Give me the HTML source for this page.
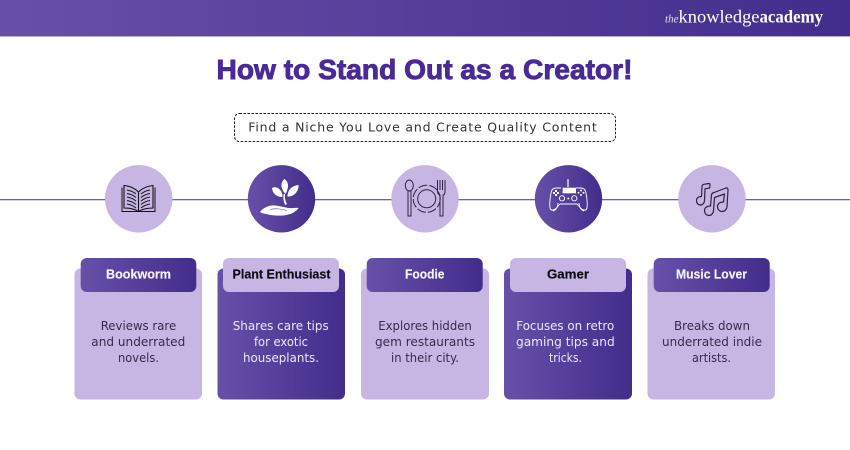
<!DOCTYPE html>
<html>
<head>
<meta charset="utf-8">
<style>
html,body{margin:0;padding:0;background:#fff;width:850px;height:450px;overflow:hidden}
svg{display:block}
.s{font-family:"DejaVu Sans",sans-serif}
.tab{font-family:"Liberation Sans",sans-serif;font-weight:700;font-size:12.500px;stroke-width:.15px}
.b{font-family:"DejaVu Sans",sans-serif;font-size:12px}
.dk{fill:#352c4a}
.lt{fill:#ece7f7}
</style>
</head>
<body>
<svg width="850" height="450" viewBox="0 0 850 450" xmlns="http://www.w3.org/2000/svg">
<defs>
<linearGradient id="g" x1="0" y1="0" x2="1" y2="0"><stop offset="0" stop-color="#6750a8"/><stop offset="1" stop-color="#432d8b"/></linearGradient>
</defs>
<rect width="850" height="450" fill="#fff"/>
<rect x="0" y="0" width="850" height="36" fill="url(#g)"/>
<rect x="0" y="36" width="850" height="1" fill="#b9aed6"/>
<text x="665" y="22.500" font-family="'Liberation Serif',serif" font-style="italic" font-size="12" fill="#e3dcf2" textLength="13.500" lengthAdjust="spacingAndGlyphs">the</text>
<text x="678.500" y="22.500" font-family="'Liberation Serif',serif" font-size="18" fill="#fff" textLength="81" lengthAdjust="spacingAndGlyphs">knowledge</text>
<text x="759.500" y="22.500" font-family="'Liberation Serif',serif" font-weight="700" font-size="18" fill="#fff" textLength="63.500" lengthAdjust="spacingAndGlyphs">academy</text>

<text x="216.500" y="79" font-family="'Liberation Sans',sans-serif" font-weight="700" font-size="28" fill="#4a2a96" stroke="#4a2a96" stroke-width=".9" textLength="416" lengthAdjust="spacingAndGlyphs">How to Stand Out as a Creator!</text>

<rect x="234.500" y="113.500" width="381" height="28" rx="5" fill="#fff" stroke="#222" stroke-width="1" stroke-dasharray="2.500 1.500"/>
<text x="248.300" y="131.500" class="s" font-size="12.500" fill="#333" textLength="348.500" lengthAdjust="spacing">Find a Niche You Love and Create Quality Content</text>

<rect x="0" y="199" width="850" height="1.300" fill="#6f5cc4"/>

<circle cx="138.700" cy="198.800" r="33.700" fill="#c7b5e3"/>
<circle cx="281.500" cy="198.800" r="33.700" fill="url(#g)"/>
<circle cx="425" cy="198.800" r="33.700" fill="#c7b5e3"/>
<circle cx="568.500" cy="198.800" r="33.700" fill="url(#g)"/>
<circle cx="712" cy="198.800" r="33.700" fill="#c7b5e3"/>

<!-- book -->
<g fill="none" stroke="#15121c" stroke-width="1.100">
<path d="M122 187.500V211.500H155V187.500" stroke-width="1"/>
<path d="M138.500 192C134 187.500 129 186 124 185.500V208C129 208 134.500 209 138.500 211.500C142.500 209 148 208 153 208V185.500C148 186 143 187.500 138.500 192Z"/>
<path d="M138.500 192V211"/>
<path d="M127 190C130 190.500 133 191.500 136 194M127 193.500C130 194 133 195 136 197.500M127 197C130 197.500 133 198.500 136 201M127 200.500C130 201 133 202 136 204.500M127 204C130 204.500 133 205.500 136 208"/>
<path d="M150 190C147 190.500 144 191.500 141 194M150 193.500C147 194 144 195 141 197.500M150 197C147 197.500 144 198.500 141 201M150 200.500C147 201 144 202 141 204.500M150 204C147 204.500 144 205.500 141 208"/>
</g>

<!-- plant -->
<g fill="#fff">
<path d="M284.500 179C289 182.500 289 187.500 285.500 194C280 188 280.500 182.500 284.500 179Z"/>
<path d="M272 188C277 185.500 282.500 190 282.500 197C276.500 197 272.500 193.500 272 188Z"/>
<path d="M298.500 185C299 191.500 293.500 197 287.500 196.500C287.500 190 292 185.500 298.500 185Z"/>
<path d="M283.500 194L285 194C284.500 198 285.500 201 287 204L285 205C283.500 201 283 198 283.500 194Z"/>
<path d="M260 212C264 207 270 205 275 205.500C280 206 284 207 288 208C292 208.500 296 207.500 298.500 208C296 212 290 215 283 215.500C276 216 270 215 266 214C264 213.500 262 213.500 260 212Z"/>
</g>
<path d="M270 209.500C276 208 281 209 287 210.500" fill="none" stroke="#5a44a0" stroke-width=".6"/>

<!-- food -->
<g fill="none" stroke="#2c2440" stroke-width="1">
<ellipse cx="409.300" cy="185.500" rx="4" ry="5.500"/>
<path d="M408 191V216H411V191"/>
<circle cx="426.700" cy="198.800" r="13.500" stroke-dasharray="9 2"/>
<circle cx="426.700" cy="198.800" r="9"/>
<path d="M437.500 180V191C437.500 194 439 195 440 195V216H443V195C444 195 445 194 445 191V180M440 180V190M442.500 180V190"/>
</g>

<!-- gamepad -->
<g fill="none" stroke="#fff" stroke-width=".9">
<path d="M568 179V187" stroke-width="1.200"/>
<path d="M561 188H556C553 188 551.500 190 551 193C550 198 549.500 204 550 208C550.500 211 554 210.500 556 208.500L560 204H577L581 208.500C583 210.500 586.500 211 587 208C587.500 204 587 198 586 193C585.500 190 584 188 581 188H576"/>
<path d="M553 211C556 210 558 207 558 203M584 211C581 210 579 207 579 203"/>
<circle cx="562" cy="198.300" r="2.600"/>
<circle cx="574.300" cy="198.300" r="2.600"/>
</g>
<g fill="#fff">
<rect x="562.700" y="187.700" width="13.300" height="5.600"/>
<rect x="555" y="190" width="2" height="2"/><rect x="555" y="194" width="2" height="2"/><rect x="553" y="192" width="2" height="2"/><rect x="557" y="192" width="2" height="2"/>
<circle cx="581" cy="190.500" r="1"/><circle cx="581" cy="195" r="1"/><circle cx="578.500" cy="192.800" r="1"/><circle cx="583.500" cy="192.800" r="1"/>
<circle cx="568.300" cy="198.500" r="1"/>
</g>

<!-- music -->
<g fill="none" stroke="#2c2440" stroke-width="1.200" stroke-linejoin="round">
<path d="M704.500 200.500C704.500 203 702.500 205 700.500 205C698 205 696.500 203 696.500 200.500C696.500 198 698.500 196.500 701.500 196.500L702 186.500C702 185 703 184.500 704.500 184.200L709 183.500C710 183.500 710 184.500 710 186L709.500 188L705 188.800Z"/>
<path d="M713.500 210.500C713.500 213 711.500 215.500 709 215.500C706.500 215.500 704.500 213.500 704.500 210.500C704.500 208 706.500 206 710.500 206L711.500 195C711.500 193.500 712.500 193 714 192.500L726 188C727.500 187.500 728 188.500 728 190L727 206.500C727 209 725 211.500 722 211.500C719.500 211.500 717.500 209.500 717.500 206.500C717.500 204 719.500 202 723.500 202L724.500 194L714.500 197.500Z"/>
</g>

<!-- cards -->
<rect x="74.500" y="268.500" width="127.500" height="131" rx="6" fill="#c7b5e3"/>
<rect x="217.500" y="268.500" width="127.500" height="131" rx="6" fill="url(#g)"/>
<rect x="361" y="268.500" width="128" height="131" rx="6" fill="#c7b5e3"/>
<rect x="504" y="268.500" width="128" height="131" rx="6" fill="url(#g)"/>
<rect x="647.500" y="268.500" width="127.500" height="131" rx="6" fill="#c7b5e3"/>

<rect x="80.700" y="258" width="115.600" height="34" rx="6" fill="url(#g)"/>
<rect x="223" y="258" width="116" height="34" rx="6" fill="#c7b5e3"/>
<rect x="366.700" y="258" width="116" height="34" rx="6" fill="url(#g)"/>
<rect x="510" y="258" width="116" height="34" rx="6" fill="#c7b5e3"/>
<rect x="653.700" y="258" width="116" height="34" rx="6" fill="url(#g)"/>

<text x="106" y="278.500" class="tab" fill="#f5f2fb" stroke="#f5f2fb" textLength="65" lengthAdjust="spacingAndGlyphs">Bookworm</text>
<text x="232.500" y="278.500" class="tab" fill="#0d0a14" stroke="#0d0a14" textLength="98" lengthAdjust="spacingAndGlyphs">Plant Enthusiast</text>
<text x="405" y="278.500" class="tab" fill="#f5f2fb" stroke="#f5f2fb" textLength="39.500" lengthAdjust="spacingAndGlyphs">Foodie</text>
<text x="547" y="278.500" class="tab" fill="#0d0a14" stroke="#0d0a14" textLength="42" lengthAdjust="spacingAndGlyphs">Gamer</text>
<text x="676" y="278.500" class="tab" fill="#f5f2fb" stroke="#f5f2fb" textLength="71" lengthAdjust="spacingAndGlyphs">Music Lover</text>

<text x="100.700" y="330" class="b dk" textLength="75.500" lengthAdjust="spacingAndGlyphs">Reviews rare</text>
<text x="91.300" y="346" class="b dk" textLength="94" lengthAdjust="spacingAndGlyphs">and underrated</text>
<text x="118" y="362" class="b dk" textLength="41" lengthAdjust="spacingAndGlyphs">novels.</text>

<text x="232.700" y="330" class="b lt" textLength="96" lengthAdjust="spacingAndGlyphs">Shares care tips</text>
<text x="254" y="346" class="b lt" textLength="54" lengthAdjust="spacingAndGlyphs">for exotic</text>
<text x="243" y="362" class="b lt" textLength="76" lengthAdjust="spacingAndGlyphs">houseplants.</text>

<text x="378.300" y="330" class="b dk" textLength="93.500" lengthAdjust="spacingAndGlyphs">Explores hidden</text>
<text x="375" y="346" class="b dk" textLength="100" lengthAdjust="spacingAndGlyphs">gem restaurants</text>
<text x="391" y="362" class="b dk" textLength="68" lengthAdjust="spacingAndGlyphs">in their city.</text>

<text x="516.300" y="330" class="b lt" textLength="98" lengthAdjust="spacingAndGlyphs">Focuses on retro</text>
<text x="516" y="346" class="b lt" textLength="98.700" lengthAdjust="spacingAndGlyphs">gaming tips and</text>
<text x="549" y="362" class="b lt" textLength="33" lengthAdjust="spacingAndGlyphs">tricks.</text>

<text x="674" y="330" class="b dk" textLength="76" lengthAdjust="spacingAndGlyphs">Breaks down</text>
<text x="662" y="346" class="b dk" textLength="100" lengthAdjust="spacingAndGlyphs">underrated indie</text>
<text x="692" y="362" class="b dk" textLength="39" lengthAdjust="spacingAndGlyphs">artists.</text>
</svg>
</body>
</html>
